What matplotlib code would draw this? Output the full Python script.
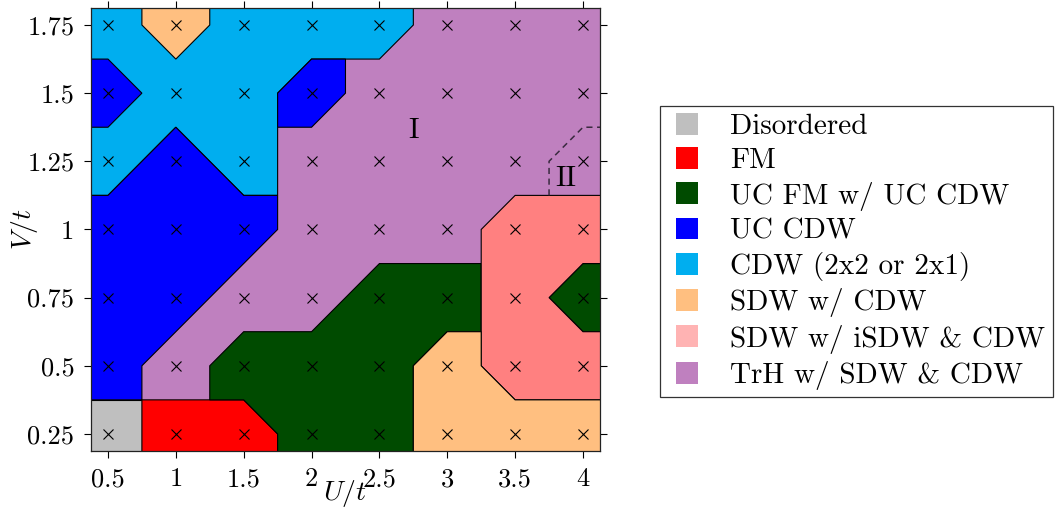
import matplotlib
matplotlib.use("Agg")
import matplotlib.pyplot as plt
from matplotlib.patches import Polygon, Patch, Rectangle
from matplotlib.legend_handler import HandlerPatch

plt.rcParams['font.family'] = ['cmr10', 'DejaVu Serif']
plt.rcParams['mathtext.fontset'] = 'cm'
plt.rcParams['axes.unicode_minus'] = False

# ---- data ----
U_grid = [0.5, 1.0, 1.5, 2.0, 2.5, 3.0, 3.5, 4.0]
V_grid = [0.25, 0.5, 0.75, 1.0, 1.25, 1.5, 1.75]
x_ticks = [0.5, 1, 1.5, 2, 2.5, 3, 3.5, 4]
x_ticklabels = ['0.5', '1', '1.5', '2', '2.5', '3', '3.5', '4']
y_ticks = [0.25, 0.5, 0.75, 1, 1.25, 1.5, 1.75]
y_ticklabels = ['0.25', '0.5', '0.75', '1', '1.25', '1.5', '1.75']

phase_names = ['Disordered', 'FM', 'UC FM w/ UC CDW', 'UC CDW',
               'CDW (2x2 or 2x1)', 'SDW w/ CDW', 'SDW w/ iSDW & CDW',
               'TrH w/ SDW & CDW']

# phase region boundaries (U, V)
trh_region = [(0.0, 0.0), (4.5, 0.0), (4.5, 2.0), (0.0, 2.0)]
cdw_region = [(0.25, 1.875), (2.75, 1.875), (2.75, 1.75), (2.5, 1.625),
              (2.0, 1.625), (1.75, 1.5), (1.75, 1.125), (1.5, 1.125),
              (1.0, 1.375), (0.5, 1.125), (0.25, 1.125)]
sdw_top_region = [(0.75, 1.875), (1.25, 1.875), (1.25, 1.75), (1.0, 1.625),
                  (0.75, 1.75)]
uccdw_left_region = [(0.25, 1.625), (0.5, 1.625), (0.75, 1.5), (0.5, 1.375),
                     (0.25, 1.375)]
uccdw_mid_region = [(2.0, 1.625), (2.25, 1.625), (2.25, 1.5), (2.0, 1.375),
                    (1.75, 1.375), (1.75, 1.5)]
uccdw_main_region = [(0.25, 0.375), (0.75, 0.375), (0.75, 0.5), (1.75, 1.0),
                     (1.75, 1.125), (1.5, 1.125), (1.0, 1.375), (0.5, 1.125),
                     (0.25, 1.125)]
disordered_region = [(0.25, 0.125), (0.75, 0.125), (0.75, 0.375),
                     (0.25, 0.375)]
fm_region = [(0.75, 0.125), (1.75, 0.125), (1.75, 0.25), (1.5, 0.375),
             (0.75, 0.375)]
ucfm_main_region = [(1.25, 0.375), (1.25, 0.5), (1.5, 0.625), (2.0, 0.625),
                    (2.5, 0.875), (3.25, 0.875), (3.25, 0.625), (3.0, 0.625),
                    (2.75, 0.5), (2.75, 0.125), (1.75, 0.125), (1.75, 0.25),
                    (1.5, 0.375)]
ucfm_right_region = [(4.25, 0.875), (4.0, 0.875), (3.75, 0.75), (4.0, 0.625),
                     (4.25, 0.625)]
isdw_region = [(3.5, 1.125), (4.25, 1.125), (4.25, 0.875), (4.0, 0.875),
               (3.75, 0.75), (4.0, 0.625), (4.25, 0.625), (4.25, 0.375),
               (3.5, 0.375), (3.25, 0.5), (3.25, 1.0)]
sdw_bottom_region = [(2.75, 0.125), (2.75, 0.5), (3.0, 0.625), (3.25, 0.625),
                     (3.25, 0.5), (3.5, 0.375), (4.25, 0.375), (4.25, 0.125)]
sub_boundary_U = [3.75, 3.75, 4.0, 4.2]
sub_boundary_V = [1.125, 1.25, 1.375, 1.375]

# ---- styles ----
c_dis = '#BFBFBF'
c_fm = '#FF0000'
c_ucfm = '#004B00'
c_uccdw = '#0000FF'
c_cdw = '#00AEEF'
c_sdw = '#FFBF80'
c_isdw = '#FF8080'
c_isdw_leg = '#FFB3B3'
c_trh = '#BF80BF'

fig = plt.figure(figsize=(10.57, 5.17), dpi=100)
ax = fig.add_axes([0.0861, 0.1277, 0.4815, 0.8569])

regions = [
    (trh_region, c_trh),
    (cdw_region, c_cdw),
    (sdw_top_region, c_sdw),
    (uccdw_left_region, c_uccdw),
    (uccdw_mid_region, c_uccdw),
    (uccdw_main_region, c_uccdw),
    (disordered_region, c_dis),
    (fm_region, c_fm),
    (ucfm_main_region, c_ucfm),
    (ucfm_right_region, c_ucfm),
    (isdw_region, c_isdw),
    (sdw_bottom_region, c_sdw),
]
for verts, col in regions:
    ax.add_patch(Polygon(verts, closed=True, facecolor=col,
                         edgecolor='black', linewidth=0.8, zorder=1))

ax.plot(sub_boundary_U, sub_boundary_V, linestyle=(0, (4, 3)),
        color='#3a2a40', linewidth=1.1, zorder=2)

for u in U_grid:
    for v in V_grid:
        ax.plot(u, v, marker='x', color='black', markersize=6.5,
                markeredgewidth=0.8, linestyle='none', zorder=3)

ax.text(2.75, 1.36, 'I', fontsize=21, ha='center', va='center', zorder=4)
ax.text(3.875, 1.185, 'II', fontsize=21, ha='center', va='center', zorder=4)

ax.set_xlim(0.375, 4.125)
ax.set_ylim(0.1875, 1.8125)
ax.set_xticks(x_ticks)
ax.set_xticklabels(x_ticklabels)
ax.set_yticks(y_ticks)
ax.set_yticklabels(y_ticklabels)
ax.tick_params(axis='both', which='major', direction='out', length=5,
               width=0.8, labelsize=19, top=True, right=True, pad=7)
for s in ax.spines.values():
    s.set_linewidth(0.9)
    s.set_color('#222222')
    s.set_zorder(5)

ax.set_xlabel('$U/t$', fontsize=20)
ax.set_ylabel('$V/t$', fontsize=20)
ax.xaxis.set_label_coords(0.5, -0.06)
ax.yaxis.set_label_coords(-0.1, 0.5)


def square_patch(legend, orig_handle, xdescent, ydescent, width, height,
                 fontsize):
    side = 0.75 * fontsize
    return Rectangle((-xdescent + width - side,
                      -ydescent + (height - side) / 2.0), side, side)


leg_colors = [c_dis, c_fm, c_ucfm, c_uccdw, c_cdw, c_sdw, c_isdw_leg, c_trh]
handles = [Patch(facecolor=c, edgecolor='none') for c in leg_colors]
leg = fig.legend(handles, phase_names, loc='center left',
                 bbox_to_anchor=(0.6245, 0.5135), fontsize=21, frameon=True,
                 fancybox=False, edgecolor='black', handlelength=1.06,
                 handleheight=0.75, handletextpad=1.1, labelspacing=0.25,
                 borderpad=0.25, borderaxespad=0,
                 handler_map={Patch: HandlerPatch(patch_func=square_patch)})
leg.get_frame().set_linewidth(0.9)

fig.savefig('out.png', dpi=100)
